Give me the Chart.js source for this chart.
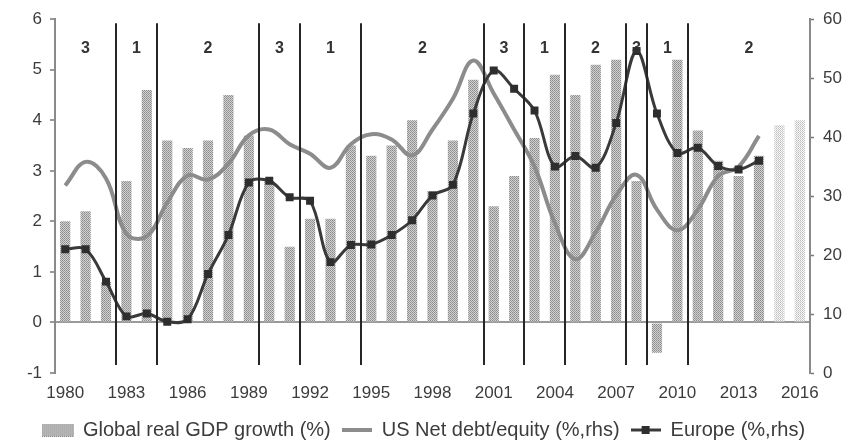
<!DOCTYPE html>
<html>
<head>
<meta charset="utf-8">
<script src="https://cdn.jsdelivr.net/npm/chart.js@4.4.1/dist/chart.umd.min.js"></script>
<style>
  html, body { margin: 0; padding: 0; background: #fff; }
  #wrap { width: 848px; height: 443px; }
</style>
</head>
<body>
<div id="wrap"><canvas id="chart" width="848" height="443"></canvas></div>
<script>
// ---- data -------------------------------------------------------------------

const years = ['1980','1981','1982','1983','1984','1985','1986','1987','1988','1989',
               '1990','1991','1992','1993','1994','1995','1996','1997','1998','1999',
               '2000','2001','2002','2003','2004','2005','2006','2007','2008','2009',
               '2010','2011','2012','2013','2014','2015','2016'];

// Global real GDP growth (%), left axis
const gdpGrowth = [2.0, 2.2, 0.8, 2.8, 4.6, 3.6, 3.45, 3.6, 4.5, 3.7,
                   2.8, 1.5, 2.05, 2.05, 3.5, 3.3, 3.5, 4.0, 2.6, 3.6,
                   4.8, 2.3, 2.9, 3.65, 4.9, 4.5, 5.1, 5.2, 2.8, -0.6,
                   5.2, 3.8, 3.2, 2.9, 3.3, 3.9, 4.0];

// US net debt/equity (%), right axis
const usDebtEquity = [31.8, 35.8, 33.0, 23.6, 23.2, 28.9, 33.5, 32.8, 35.5, 40.3,
                      41.3, 38.8, 37.2, 34.8, 38.8, 40.5, 39.6, 36.9, 41.3, 46.5,
                      53.0, 47.4, 41.3, 35.0, 25.4, 19.3, 23.9, 30.1, 33.6, 27.7,
                      24.2, 27.7, 33.4, 35.0, 40.2, null, null];

// Europe net debt/equity (%), right axis
const europeDebtEquity = [21.0, 21.0, 15.5, 9.6, 10.1, 8.7, 9.1, 16.8, 23.4, 32.3,
                          32.6, 29.8, 29.2, 18.8, 21.7, 21.8, 23.4, 25.9, 30.1, 31.9,
                          44.0, 51.3, 48.2, 44.5, 35.0, 36.8, 34.8, 42.4, 54.6, 44.0,
                          37.3, 38.2, 35.1, 34.5, 36.0, null, null];

const forecastFrom = 2015;

// regime boundaries (between years) and the regime number in each span
const regimeBreaks = [1982.5, 1984.5, 1989.5, 1991.5, 1994.5, 2000.5, 2002.5, 2004.5, 2007.5, 2008.5, 2010.5];
const regimeLabels = ['3', '1', '2', '3', '1', '2', '3', '1', '2', '3', '1', '2'];

const leftTicks = { min: -1, max: 6, step: 1 };
const rightTicks = { min: 0, max: 60, step: 10 };

// ---- styling helpers --------------------------------------------------------

const FONT = '"Liberation Sans", Arial, sans-serif';
const TXT = '#3c3c3c';

function tile(colors) {
  const n = colors.length;
  const c = document.createElement('canvas');
  c.width = n; c.height = n;
  const g = c.getContext('2d');
  colors.forEach((row, j) => row.forEach((col, i) => {
    g.fillStyle = col;
    g.fillRect(i, j, 1, 1);
  }));
  return document.createElement('canvas').getContext('2d').createPattern(c, 'repeat');
}

const barFill = tile([['#8a8a8a', '#d2d2d2'], ['#d2d2d2', '#9a9a9a']]);
const barFillLight = tile([['#bdbdbd', '#ffffff'], ['#f2f2f2', '#d0d0d0']]);

function icon(w, h, draw) {
  const c = document.createElement('canvas');
  c.width = w; c.height = h;
  draw(c.getContext('2d'), w, h);
  return c;
}

const legendIcons = [
  icon(32, 13, (g, w, h) => { g.fillStyle = barFill; g.fillRect(0, 0, w, h); }),
  icon(30, 6, (g, w, h) => {
    g.strokeStyle = '#8c8c8c'; g.lineWidth = 4;
    g.beginPath(); g.moveTo(0, h / 2); g.lineTo(w, h / 2); g.stroke();
  }),
  icon(30, 10, (g, w, h) => {
    g.strokeStyle = '#3a3a3a'; g.lineWidth = 3;
    g.beginPath(); g.moveTo(0, h / 2); g.lineTo(w, h / 2); g.stroke();
    g.fillStyle = '#2e2e2e'; g.fillRect(w / 2 - 4, h / 2 - 4, 8, 8);
  })
];

// ---- regime lines + labels --------------------------------------------------

const regimePlugin = {
  id: 'regimes',
  afterDatasetsDraw(chart) {
    const { ctx, chartArea: a, scales: { x } } = chart;
    const toIdx = yr => yr - Number(years[0]);
    const xs = regimeBreaks.map(b => Math.round(x.getPixelForValue(toIdx(b))));
    ctx.save();
    ctx.strokeStyle = '#262626';
    ctx.lineWidth = 2;
    xs.forEach(px => {
      ctx.beginPath();
      ctx.moveTo(px, a.top + 4);
      ctx.lineTo(px, a.bottom - 8);
      ctx.stroke();
    });
    const edges = [a.left, ...xs, a.right];
    ctx.fillStyle = '#333';
    ctx.font = 'bold 16px ' + FONT;
    ctx.textAlign = 'center';
    ctx.textBaseline = 'middle';
    regimeLabels.forEach((t, i) => ctx.fillText(t, (edges[i] + edges[i + 1]) / 2, a.top + 29));
    ctx.restore();
  }
};

// ---- chart ------------------------------------------------------------------

Chart.defaults.font.family = FONT;
Chart.defaults.color = TXT;

new Chart(document.getElementById('chart'), {
  type: 'bar',
  data: {
    labels: years,
    datasets: [
      {
        type: 'bar',
        label: 'Global real GDP growth (%)',
        data: gdpGrowth,
        yAxisID: 'y',
        backgroundColor: c => Number(years[c.dataIndex]) >= forecastFrom ? barFillLight : barFill,
        barPercentage: 0.5,
        categoryPercentage: 1,
        order: 3
      },
      {
        type: 'line',
        label: 'US Net debt/equity (%,rhs)',
        data: usDebtEquity,
        yAxisID: 'y2',
        borderColor: '#8c8c8c',
        borderWidth: 4,
        pointRadius: 0,
        tension: 0.4,
        order: 2
      },
      {
        type: 'line',
        label: 'Europe (%,rhs)',
        data: europeDebtEquity,
        yAxisID: 'y2',
        borderColor: '#3a3a3a',
        borderWidth: 3,
        pointStyle: 'rect',
        pointRadius: 3.5,
        pointBackgroundColor: '#2e2e2e',
        pointBorderColor: '#2e2e2e',
        tension: 0.35,
        order: 1
      }
    ]
  },
  options: {
    responsive: false,
    animation: false,
    layout: { padding: { top: 14, bottom: -7, left: 0, right: 0 } },
    scales: {
      x: {
        grid: { display: false, drawTicks: false },
        border: { display: false },
        ticks: {
          autoSkip: false, maxRotation: 0, padding: 10,
          color: TXT, font: { size: 17 },
          callback: (v, i) => (i % 3 === 0 ? years[i] : '')
        },
        afterFit: s => { s.height = 36; }
      },
      y: {
        position: 'left',
        min: leftTicks.min, max: leftTicks.max,
        ticks: { stepSize: leftTicks.step, padding: 8, color: TXT, font: { size: 17 } },
        grid: {
          color: c => (c.tick && c.tick.value === 0 ? '#9a9a9a' : 'rgba(0,0,0,0)'),
          lineWidth: 2, tickLength: 5, tickColor: '#777', tickWidth: 1.5
        },
        border: { color: '#8a8a8a', width: 2 },
        afterFit: s => { s.width = 55; }
      },
      y2: {
        position: 'right',
        min: rightTicks.min, max: rightTicks.max,
        ticks: { stepSize: rightTicks.step, padding: 9, color: TXT, font: { size: 17 } },
        grid: { drawOnChartArea: false, tickLength: 4, tickColor: '#777', tickWidth: 1.5 },
        border: { color: '#8a8a8a', width: 2 },
        afterFit: s => { s.width = 38; }
      }
    },
    plugins: {
      tooltip: { enabled: false },
      legend: {
        position: 'bottom',
        labels: {
          usePointStyle: true,
          pointStyleWidth: 30,
          padding: 11,
          color: TXT,
          font: { size: 20 },
          generateLabels(chart) {
            const items = Chart.defaults.plugins.legend.labels.generateLabels(chart);
            items.sort((p, q) => p.datasetIndex - q.datasetIndex);
            items.forEach(it => { it.pointStyle = legendIcons[it.datasetIndex]; });
            return items;
          }
        }
      }
    }
  },
  plugins: [regimePlugin]
});
</script>
</body>
</html>
